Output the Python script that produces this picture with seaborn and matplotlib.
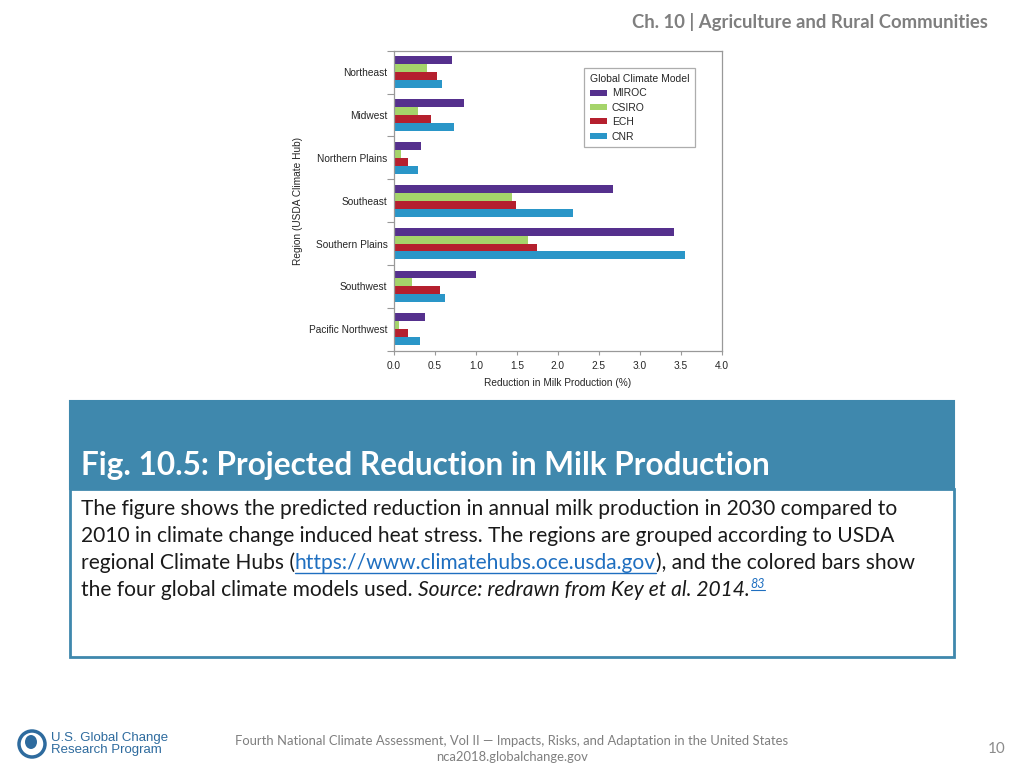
import matplotlib
matplotlib.use("Agg")
import matplotlib.pyplot as plt
import matplotlib.patches as mpatches
import pandas as pd
import seaborn as sns

# ---- data ----
regions = ["Northeast", "Midwest", "Northern Plains", "Southeast",
           "Southern Plains", "Southwest", "Pacific Northwest"]
models = ["MIROC", "CSIRO", "ECH", "CNR"]
miroc = [0.71, 0.86, 0.33, 2.67, 3.41, 1.00, 0.38]
csiro = [0.40, 0.29, 0.09, 1.44, 1.64, 0.22, 0.06]
ech = [0.53, 0.46, 0.17, 1.49, 1.74, 0.56, 0.17]
cnr = [0.59, 0.74, 0.29, 2.19, 3.55, 0.63, 0.32]
model_colors = ["#55308D", "#A5D46A", "#B5202E", "#2A96C8"]
x_ticks = [0.0, 0.5, 1.0, 1.5, 2.0, 2.5, 3.0, 3.5, 4.0]

df = pd.DataFrame({"MIROC": miroc, "CSIRO": csiro, "ECH": ech, "CNR": cnr},
                  index=regions).reset_index(names="region")
long_df = df.melt(id_vars="region", var_name="model", value_name="reduction")

sns.set_style("white")
plt.rcParams["font.family"] = ["Liberation Sans", "DejaVu Sans"]

W, H = 1024, 768
fig = plt.figure(figsize=(W / 100, H / 100), dpi=100)
fig.patch.set_facecolor("white")


def fx(px):
    return px / W


def fy(py):
    return 1 - py / H


# ---- chart ----
ax = fig.add_axes([fx(393.7), fy(350.7), fx(722) - fx(393.7), fy(50.7) - fy(350.7)])
sns.barplot(data=long_df, y="region", x="reduction", hue="model",
            hue_order=models, order=regions, palette=model_colors,
            orient="h", width=0.74, saturation=1, linewidth=0, ax=ax)

ax.set_xlim(0, 4.0)
ax.set_ylim(6.5, -0.5)
ax.set_xticks(x_ticks)
ax.set_xticklabels([f"{t:.1f}" for t in x_ticks], fontsize=7.3)
ax.set_yticks(range(len(regions)))
ax.set_yticklabels(regions, fontsize=7.3)
ax.set_yticks([i + 0.5 for i in range(-1, len(regions))], minor=True)
ax.tick_params(axis="y", which="major", length=0, pad=4.5)
ax.tick_params(axis="y", which="minor", length=5, width=0.8, color="#999999", left=True)
ax.tick_params(axis="x", which="major", length=3, width=0.8, color="#999999",
               bottom=True, pad=4.5)
ax.set_xlabel("Reduction in Milk Production (%)", fontsize=7.3, labelpad=5)
ax.set_ylabel("Region (USDA Climate Hub)", fontsize=7.3, labelpad=4)
for sp in ax.spines.values():
    sp.set_color("#999999")
    sp.set_linewidth(0.9)

leg = ax.legend(title="Global Climate Model", fontsize=7.5, title_fontsize=7.5,
                loc="upper right", bbox_to_anchor=(fx(695), fy(68.3)),
                bbox_transform=fig.transFigure, frameon=True, fancybox=False,
                borderaxespad=0, handlelength=1.7, handleheight=0.5,
                handletextpad=0.4, labelspacing=0.42, borderpad=0.55,
                alignment="left")
leg.get_frame().set_edgecolor("#999999")
leg.get_frame().set_linewidth(0.9)

# ---- slide decorations ----
slide_font = ["Lato", "DejaVu Sans"]
fig.text(fx(988), fy(22), "Ch. 10 | Agriculture and Rural Communities",
         ha="right", va="center", fontsize=13.3, fontweight="bold",
         color="#7F7F7F", family=slide_font)

box_color = "#3F88AD"
fig.patches.append(mpatches.Rectangle((fx(70), fy(489)), fx(954) - fx(70), fy(401) - fy(489),
                                      transform=fig.transFigure, facecolor=box_color,
                                      edgecolor=box_color, linewidth=1.5))
fig.patches.append(mpatches.Rectangle((fx(70), fy(657)), fx(954) - fx(70), fy(489) - fy(657),
                                      transform=fig.transFigure, facecolor="white",
                                      edgecolor=box_color, linewidth=2))
fig.text(fx(81), fy(465), "Fig. 10.5: Projected Reduction in Milk Production",
         ha="left", va="center", fontsize=22.7, fontweight="bold", color="white",
         family=slide_font)

body_lines = [
    [("The figure shows the predicted reduction in annual milk production in 2030 compared to", "normal", "#1a1a1a", False)],
    [("2010 in climate change induced heat stress. The regions are grouped according to USDA", "normal", "#1a1a1a", False)],
    [("regional Climate Hubs (", "normal", "#1a1a1a", False),
     ("https://www.climatehubs.oce.usda.gov", "normal", "#1F6FC0", True),
     ("), and the colored bars show", "normal", "#1a1a1a", False)],
    [("the four global climate models used. ", "normal", "#1a1a1a", False),
     ("Source: redrawn from Key et al. 2014.", "italic", "#1a1a1a", False)],
]
line_y = [509, 536, 563, 590]

fig.canvas.draw()
renderer = fig.canvas.get_renderer()
body_size = 15.1
for segs, y in zip(body_lines, line_y):
    x = 81
    for text, style, color, link in segs:
        t = fig.text(fx(x), fy(y), text, ha="left", va="center", fontsize=body_size,
                     style=style, color=color, family=slide_font)
        bb = t.get_window_extent(renderer)
        if link:
            fig.lines.append(plt.Line2D([fx(x), fx(x + bb.width)], [fy(y + 10), fy(y + 10)],
                                        transform=fig.transFigure, color=color, lw=1))
        x += bb.width
    last_x = x
# superscript reference
t = fig.text(fx(last_x + 1), fy(584), "83", ha="left", va="center", fontsize=9,
             style="italic", color="#1F6FC0", family=slide_font)
bb = t.get_window_extent(renderer)
fig.lines.append(plt.Line2D([fx(last_x + 1), fx(last_x + 1 + bb.width)], [fy(590), fy(590)],
                            transform=fig.transFigure, color="#1F6FC0", lw=0.8))

# footer
fig.text(fx(512), fy(741), "Fourth National Climate Assessment, Vol II \u2014 Impacts, Risks, and Adaptation in the United States",
         ha="center", va="center", fontsize=9.4, color="#7F7F7F", family=slide_font)
fig.text(fx(512), fy(757), "nca2018.globalchange.gov", ha="center", va="center",
         fontsize=9.4, color="#7F7F7F", family=slide_font)
fig.text(fx(1006), fy(749), "10", ha="right", va="center", fontsize=11,
         color="#8C8C8C", family=slide_font)

# logo
fig.patches.append(mpatches.Ellipse((fx(32), fy(744)), fx(26), 26 / H,
                                    transform=fig.transFigure, facecolor="white",
                                    edgecolor="#2E6B9E", linewidth=2.5))
fig.patches.append(mpatches.Ellipse((fx(31), fy(742)), fx(12), 14 / H,
                                    transform=fig.transFigure, facecolor="#2E6B9E",
                                    edgecolor="none"))
fig.text(fx(51), fy(744), "U.S. Global Change\nResearch Program", ha="left", va="center",
         fontsize=9.5, color="#2E6B9E", linespacing=0.95,
         family=["Liberation Sans", "DejaVu Sans"])

fig.savefig("out.png", dpi=100)
